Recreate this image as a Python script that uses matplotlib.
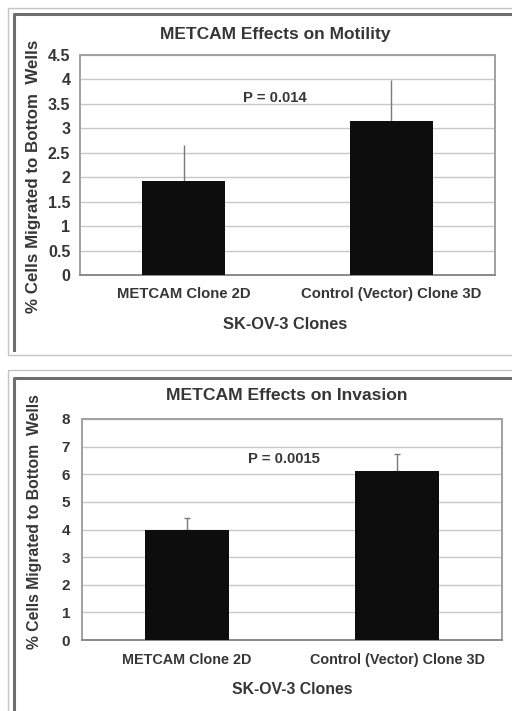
import matplotlib
matplotlib.use("Agg")
import matplotlib.pyplot as plt
from matplotlib.lines import Line2D
from matplotlib.patches import Rectangle

categories = ["METCAM Clone 2D", "Control (Vector) Clone 3D"]
motility_values = [1.92, 3.16]
motility_err = [0.74, 0.83]
invasion_values = [3.97, 6.13]
invasion_err = [0.45, 0.60]

motility_ticks = [0, 0.5, 1, 1.5, 2, 2.5, 3, 3.5, 4, 4.5]
motility_ticklabels = ["0", "0.5", "1", "1.5", "2", "2.5", "3", "3.5", "4", "4.5"]
invasion_ticks = [0, 1, 2, 3, 4, 5, 6, 7, 8]
invasion_ticklabels = ["0", "1", "2", "3", "4", "5", "6", "7", "8"]

plt.rcParams['font.family'] = ['Liberation Sans', 'DejaVu Sans']
W, H = 512, 711
fig = plt.figure(figsize=(W / 100, H / 100), dpi=100)

def fx(x):
    return x / W

def fy(y):
    return 1 - y / H

txt = "#363636"

def frame(top, inner_top, bottom, inner_bottom):
    fig.patches.append(Rectangle((fx(8), fy(bottom)), fx(520) - fx(8), fy(top) - fy(bottom),
                                 transform=fig.transFigure, fill=False,
                                 edgecolor="#c4c4c4", lw=1.0))
    fig.lines.append(Line2D([fx(14), fx(14), fx(520)], [fy(inner_bottom), fy(inner_top), fy(inner_top)],
                            transform=fig.transFigure, color="#6e6e6e", lw=2.2))

frame(8, 14, 355, 350)
frame(370, 378, 730, 730)

def panel(rect, values, err, ticks, ticklabels, ymax, title, ptxt, px, py, title_xy,
          ytick_size, xtick_size, xlab_size, ylab_size, title_size, p_size,
          ylab_xy, xlab_xy, xpad, ypad, capsize):
    x0, y0, x1, y1 = rect
    ax = fig.add_axes([fx(x0), fy(y1), fx(x1) - fx(x0), fy(y0) - fy(y1)])
    pos = list(range(len(categories)))
    ax.bar(pos, values, width=0.4, color="#0d0d0d", zorder=3)
    ax.errorbar(pos, values, yerr=[[0] * len(err), err], fmt="none",
                ecolor="#7a7a7a", elinewidth=1.0, capsize=capsize, capthick=1.0, zorder=2)
    ax.set_xlim(-0.5, 1.5)
    ax.set_ylim(0, ymax)
    ax.set_yticks(ticks)
    ax.set_yticklabels(ticklabels, fontsize=ytick_size, fontweight="bold", color=txt)
    ax.set_xticks(pos)
    ax.set_xticklabels(categories, fontsize=xtick_size, fontweight="bold", color=txt)
    ax.tick_params(axis="y", length=0, pad=ypad)
    ax.tick_params(axis="x", length=0, pad=xpad)
    ax.grid(axis="y", color="#c8c8c8", lw=1.0, zorder=0)
    ax.set_axisbelow(True)
    for s in ax.spines.values():
        s.set_color("#a0a0a0")
        s.set_linewidth(1.4)
    ax.spines["bottom"].set_color("#8a8a8a")
    ax.set_xlabel("SK-OV-3 Clones", fontsize=xlab_size, fontweight="bold", color=txt)
    ax.set_ylabel("% Cells Migrated to Bottom  Wells", fontsize=ylab_size, fontweight="bold",
                  color=txt)
    ax.xaxis.set_label_coords(*xlab_xy)
    ax.xaxis.label.set_va("center")
    ax.yaxis.set_label_coords(*ylab_xy)
    ax.yaxis.label.set_va("center")
    ax.text(px, py, ptxt, ha="center", va="center", fontsize=p_size, fontweight="bold", color=txt)
    fig.text(fx(title_xy[0]), fy(title_xy[1]), title, ha="center", va="center",
             fontsize=title_size, fontweight="bold", color=txt)
    return ax

panel((80, 55, 495, 275), motility_values, motility_err, motility_ticks, motility_ticklabels, 4.5,
      "METCAM Effects on Motility", "P = 0.014", 0.44, 3.62, (275.5, 35),
      11.5, 10.7, 11.8, 12.2, 12.5, 10.7,
      (-0.113, 0.448), (0.494, -0.227), 8.6, 7, 0)
panel((82, 419, 502, 640), invasion_values, invasion_err, invasion_ticks, invasion_ticklabels, 8,
      "METCAM Effects on Invasion", "P = 0.0015", 0.46, 6.55, (286.5, 395),
      11.0, 10.4, 11.4, 11.3, 12.6, 10.7,
      (-0.112, 0.536), (0.5, -0.222), 9.4, 8.6, 2)

fig.savefig("out.png", dpi=100)
